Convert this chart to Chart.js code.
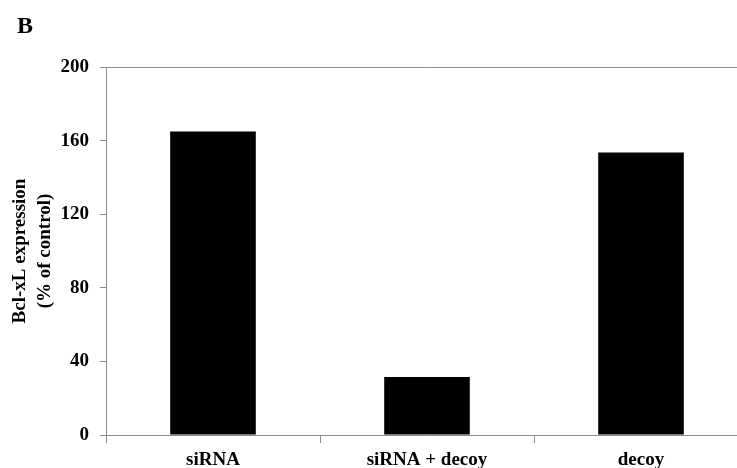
<!DOCTYPE html>
<html>
<head>
<meta charset="utf-8">
<script src="https://cdn.jsdelivr.net/npm/chart.js@4/dist/chart.umd.min.js"></script>
<style>
  html, body { margin: 0; padding: 0; background: #fff; overflow: hidden; }
  #wrap { width: 760px; height: 468px; }
</style>
</head>
<body>
<div id="wrap"><canvas id="chart"></canvas></div>
<script>
// données
const categories = ['siRNA', 'siRNA + decoy', 'decoy'];
const expression = [165, 31.5, 153.5];
const yTicks = [0, 40, 80, 120, 160, 200];

const axisGray = '#8c8c8c';
const serif = '"Liberation Serif", "Times New Roman", serif';

// petite lettre du panneau
const panelLabel = {
  id: 'panelLabel',
  afterDraw(chart) {
    const ctx = chart.ctx;
    ctx.save();
    ctx.font = 'bold 24px ' + serif;
    ctx.fillStyle = '#000';
    ctx.textBaseline = 'alphabetic';
    ctx.fillText('B', 17, 33);
    ctx.restore();
  }
};

new Chart(document.getElementById('chart'), {
  type: 'bar',
  data: {
    labels: categories,
    datasets: [{
      data: expression,
      backgroundColor: '#000',
      borderWidth: 0,
      categoryPercentage: 1,
      barPercentage: 0.4
    }]
  },
  options: {
    responsive: true,
    maintainAspectRatio: false,
    animation: false,
    layout: { padding: { top: 67, right: 12, left: 0, bottom: 0 } },
    plugins: { legend: { display: false }, tooltip: { enabled: false } },
    scales: {
      x: {
        offset: true,
        grid: {
          offset: true,
          drawOnChartArea: false,
          drawTicks: true,
          tickLength: 8,
          color: axisGray
        },
        border: { color: axisGray, width: 1 },
        ticks: {
          color: '#000',
          padding: 6,
          font: { family: serif, size: 19, weight: 'bold' }
        },
        afterFit(scale) { scale.height = 33; }
      },
      y: {
        min: 0,
        max: 200,
        afterBuildTicks(scale) { scale.ticks = yTicks.map(v => ({ value: v })); },
        grid: {
          color: ctx => (ctx.tick && ctx.tick.value === 200 ? axisGray : 'rgba(0,0,0,0)'),
          tickColor: axisGray,
          tickLength: 6,
          drawTicks: true
        },
        border: { color: axisGray, width: 1 },
        ticks: {
          color: '#000',
          padding: 11,
          font: { family: serif, size: 19, weight: 'bold' }
        },
        title: {
          display: true,
          text: ['Bcl-xL expression', '(% of control)'],
          color: '#000',
          padding: { top: 7, bottom: 0 },
          font: { family: serif, size: 19, weight: 'bold', lineHeight: 1.35 }
        },
        afterFit(scale) { scale.width = 106; }
      }
    }
  },
  plugins: [panelLabel]
});
</script>
</body>
</html>
